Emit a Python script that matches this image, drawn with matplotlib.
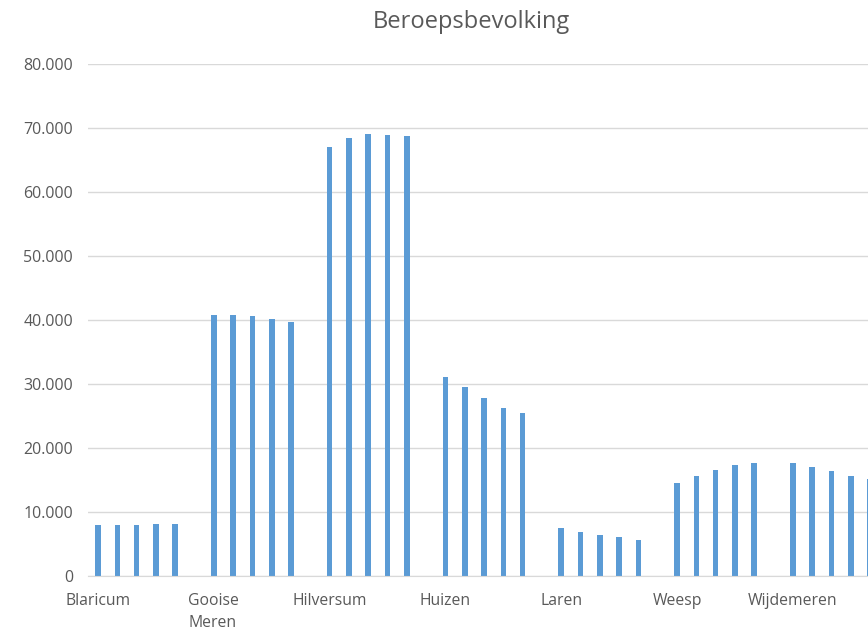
import matplotlib
matplotlib.use("Agg")
import matplotlib.pyplot as plt
from matplotlib.ticker import FuncFormatter

gemeenten = ["Blaricum", "Gooise\nMeren", "Hilversum", "Huizen", "Laren", "Weesp", "Wijdemeren"]
blaricum   = [7950, 7950, 7950, 8100, 8150]
gooise     = [40800, 40800, 40600, 40200, 39700]
hilversum  = [67100, 68500, 69000, 68850, 68700]
huizen     = [31050, 29500, 27800, 26250, 25500]
laren      = [7500, 6900, 6400, 6100, 5600]
weesp      = [14500, 15600, 16500, 17300, 17700]
wijdemeren = [17700, 17100, 16350, 15700, 15200]
series = [blaricum, gooise, hilversum, huizen, laren, weesp, wijdemeren]
yticks = [0, 10000, 20000, 30000, 40000, 50000, 60000, 70000, 80000]

slots = 6
color = "#5B9BD5"
txt = "#595959"
font = "Open Sans"

fig = plt.figure(figsize=(8.68, 6.30), dpi=100)
ax = fig.add_axes([88.4/868, 1 - 576/630, 42*19.3/868, 512/630])

for g, vals in enumerate(series):
    xs = [g*slots + j for j in range(len(vals))]
    ax.bar(xs, vals, width=0.29, color=color, zorder=3)

ax.set_xlim(-0.5, len(gemeenten)*slots - 0.5)
ax.set_ylim(0, 80000)
ax.set_yticks(yticks)
ax.yaxis.set_major_formatter(FuncFormatter(lambda v, p: "0" if v == 0 else f"{int(v):,}".replace(",", ".")))
ax.set_xticks([g*slots for g in range(len(gemeenten))])
ax.set_xticklabels(gemeenten, fontfamily=font, fontsize=11.3, color=txt, linespacing=1.5)
for lab in ax.get_yticklabels():
    lab.set_fontfamily(font)
ax.tick_params(axis="y", length=0, pad=11, labelsize=11.5, labelcolor=txt)
ax.tick_params(axis="x", length=0, pad=12)
for t in ax.get_xticklabels():
    t.set_verticalalignment("top")
    t.set_multialignment("left")

ax.grid(axis="y", color="#D9D9D9", linewidth=1, zorder=0)
for s in ["top", "right", "left"]:
    ax.spines[s].set_visible(False)
ax.spines["bottom"].set_color("#D9D9D9")
ax.spines["bottom"].set_zorder(4)

fig.text(471/868, 1 - 22/630, "Beroepsbevolking", ha="center", va="center",
         fontsize=17, color=txt, fontfamily=font)

fig.savefig("out.png", dpi=100)
